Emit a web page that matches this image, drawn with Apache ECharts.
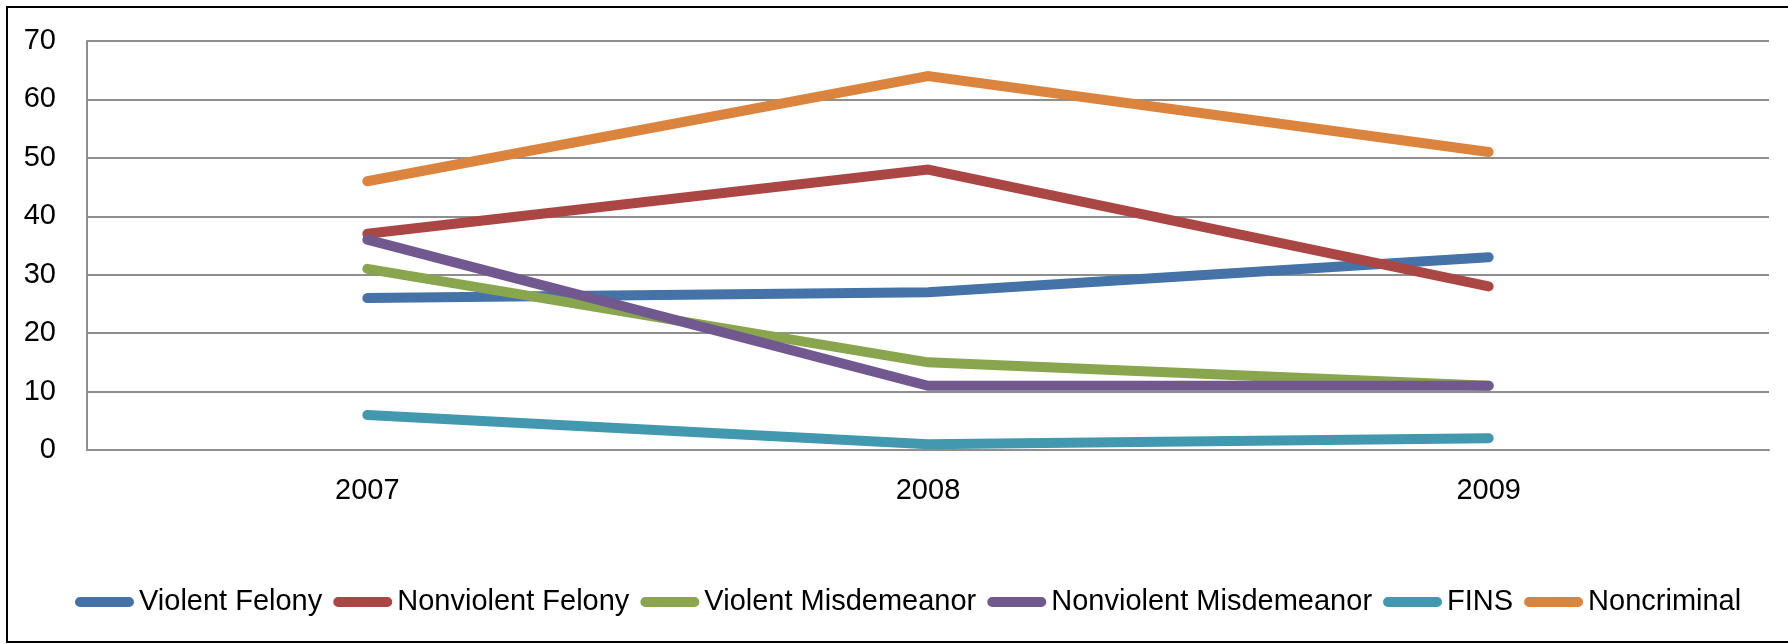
<!DOCTYPE html>
<html>
<head>
<meta charset="utf-8">
<script src="https://cdn.jsdelivr.net/npm/echarts@6/dist/echarts.min.js"></script>
<style>
html,body{margin:0;padding:0;background:#fff;}
#chart{width:1788px;height:644px;}
</style>
</head>
<body>
<div id="chart"></div>
<script>
var categories = ['2007', '2008', '2009'];
var yTicks = [0, 10, 20, 30, 40, 50, 60, 70];
var seriesNames = ['Violent Felony', 'Nonviolent Felony', 'Violent Misdemeanor', 'Nonviolent Misdemeanor', 'FINS', 'Noncriminal'];
var violentFelony = [26, 27, 33];
var nonviolentFelony = [37, 48, 28];
var violentMisdemeanor = [31, 15, 11];
var nonviolentMisdemeanor = [36, 11, 11];
var fins = [6, 1, 2];
var noncriminal = [46, 64, 51];
var colors = ['#4572A7', '#AA4643', '#89A54E', '#71588F', '#4198AF', '#DB843D'];

var dataSets = [violentFelony, nonviolentFelony, violentMisdemeanor, nonviolentMisdemeanor, fins, noncriminal];
var FONT = 'Liberation Sans';

var chart = echarts.init(document.getElementById('chart'));
chart.setOption({
  animation: false,
  backgroundColor: '#fff',
  color: colors,
  grid: { left: 87, top: 41, right: 19, bottom: 194, containLabel: false },
  graphic: [{
    type: 'rect',
    shape: { x: 7, y: 7, width: 1800, height: 635 },
    style: { fill: 'none', stroke: '#000', lineWidth: 2 },
    silent: true,
    z: 100
  }],
  legend: {
    left: 70,
    top: 580,
    itemWidth: 59,
    itemHeight: 10,
    itemGap: 11,
    icon: 'path://M5,0 L55,0 A5,5 0 0 1 55,10 L5,10 A5,5 0 0 1 5,0 Z',
    textStyle: { fontFamily: FONT, fontSize: 29, color: '#000', lineHeight: 34 },
    data: seriesNames
  },
  xAxis: {
    type: 'category',
    data: categories,
    boundaryGap: true,
    axisLine: { show: true, lineStyle: { color: '#8E8E8E', width: 2 } },
    axisTick: { show: false },
    axisLabel: { margin: 26, fontFamily: FONT, fontSize: 29, color: '#000' },
    splitLine: { show: false }
  },
  yAxis: {
    type: 'value',
    min: yTicks[0],
    max: yTicks[yTicks.length - 1],
    interval: 10,
    axisLine: { show: true, lineStyle: { color: '#8E8E8E', width: 2 } },
    axisTick: { show: false },
    axisLabel: { margin: 31, fontFamily: FONT, fontSize: 29, color: '#000' },
    splitLine: { show: true, lineStyle: { color: '#8E8E8E', width: 2 } }
  },
  series: seriesNames.map(function (name, i) {
    return {
      name: name,
      type: 'line',
      data: dataSets[i],
      symbol: 'none',
      lineStyle: { width: 10, color: colors[i], cap: 'round', join: 'miter' },
      itemStyle: { color: colors[i] }
    };
  })
});
</script>
</body>
</html>
